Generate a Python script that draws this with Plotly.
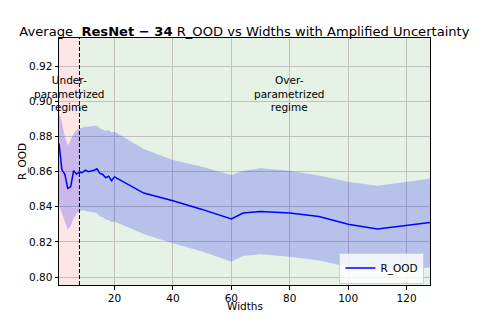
import plotly.graph_objects as go

widths = [1, 2, 3, 4, 5, 6, 7, 8, 9, 10, 11, 12, 13, 14, 15, 16, 17, 18, 19, 20,
          30, 40, 50, 60, 64, 70, 80, 90, 100, 110, 128]
r_ood = [0.876, 0.861, 0.8585, 0.8505, 0.8514, 0.8605, 0.8586, 0.8597, 0.8595, 0.8608,
         0.8599, 0.8603, 0.8608, 0.8616, 0.859, 0.8584, 0.8565, 0.8574, 0.8548, 0.857,
         0.8478, 0.8434, 0.8385, 0.8331, 0.8364, 0.8373, 0.8364, 0.8345, 0.8301, 0.8274, 0.8310]
upper = [0.894, 0.888, 0.880, 0.875, 0.878, 0.8815, 0.8835, 0.8845, 0.885, 0.8856,
         0.8855, 0.8858, 0.8862, 0.8862, 0.8845, 0.8838, 0.8832, 0.8835, 0.8822, 0.8827,
         0.8728, 0.8666, 0.8628, 0.8581, 0.8605, 0.8619, 0.8605, 0.8578, 0.8543, 0.852, 0.856]
lower = [0.841, 0.836, 0.831, 0.8269, 0.829, 0.8335, 0.836, 0.8375, 0.838, 0.8378,
         0.8373, 0.837, 0.8368, 0.8364, 0.8345, 0.834, 0.8326, 0.8325, 0.8312, 0.8316,
         0.8245, 0.8193, 0.8145, 0.8089, 0.812, 0.813, 0.8115, 0.8095, 0.8058, 0.803, 0.8055]

boundary = 8
x_min, x_max = 1, 128
y_min, y_max = 0.7955, 0.936
y_ticks = [0.80, 0.82, 0.84, 0.86, 0.88, 0.90, 0.92]
x_ticks = [20, 40, 60, 80, 100, 120]

FONT = "DejaVu Sans"
FS = 10.5

fig = go.Figure()

fig.add_trace(go.Scatter(x=widths, y=upper, mode="lines", line=dict(width=0),
                         showlegend=False, hoverinfo="skip"))
fig.add_trace(go.Scatter(x=widths, y=lower, mode="lines", line=dict(width=0),
                         fill="tonexty", fillcolor="rgba(0,0,255,0.2)",
                         showlegend=False, hoverinfo="skip"))
fig.add_trace(go.Scatter(x=widths, y=r_ood, mode="lines", name="R_OOD",
                         line=dict(color="blue", width=1.5)))

# shaded regimes
fig.add_shape(type="rect", xref="x", yref="paper", x0=x_min, x1=boundary, y0=0, y1=1,
              fillcolor="rgba(255,0,0,0.1)", line=dict(width=0), layer="below")
fig.add_shape(type="rect", xref="x", yref="paper", x0=boundary, x1=x_max, y0=0, y1=1,
              fillcolor="rgba(0,128,0,0.1)", line=dict(width=0), layer="below")
fig.add_shape(type="line", xref="x", yref="paper", x0=boundary, x1=boundary, y0=0, y1=1,
              line=dict(color="black", width=1, dash="4px,2px"))

fig.add_annotation(x=4.5, y=0.9045, xref="x", yref="y", text="Under-<br>parametrized<br>regime",
                   showarrow=False, font=dict(family=FONT, size=FS, color="black"),
                   align="center")
fig.add_annotation(x=80, y=0.9045, xref="x", yref="y", text="Over-<br>parametrized<br>regime",
                   showarrow=False, font=dict(family=FONT, size=FS, color="black"),
                   align="center")
# x-axis title
fig.add_annotation(x=0.5, y=-0.084, xref="paper", yref="paper", text="Widths",
                   showarrow=False, yanchor="middle",
                   font=dict(family=FONT, size=FS, color="black"))

# The page body adds an 8px offset, so the figure is 8px smaller and margins shifted.
fig.update_layout(
    width=470, height=311,
    margin=dict(l=51, r=48, t=30, b=34),
    paper_bgcolor="white", plot_bgcolor="white",
    font=dict(family=FONT, size=FS, color="black"),
    title=dict(text="Average  <b>ResNet − 34</b> R_OOD vs Widths with Amplified Uncertainty",
               x=0.503, xanchor="center", y=0.926, yanchor="middle",
               font=dict(family=FONT, size=13.1, color="black")),
    legend=dict(x=0.985, y=0.006, xanchor="right", yanchor="bottom",
                bgcolor="rgba(255,255,255,0.8)", bordercolor="#d0d0d0", borderwidth=1,
                font=dict(family=FONT, size=FS), tracegroupgap=0),
    showlegend=True,
)
fig.update_xaxes(range=[x_min, x_max], tickvals=x_ticks, showgrid=True, gridcolor="#c0c0c0",
                 gridwidth=1, showline=True, linecolor="black", linewidth=1, mirror=True,
                 ticks="outside", ticklen=3.5, tickcolor="black", zeroline=False,
                 automargin=False, tickfont=dict(family=FONT, size=FS))
fig.update_yaxes(range=[y_min, y_max], tickvals=y_ticks, tickformat=".2f", showgrid=True,
                 gridcolor="#c0c0c0", gridwidth=1, showline=True, linecolor="black",
                 linewidth=1, mirror=True, ticks="outside", ticklen=3.5, tickcolor="black",
                 zeroline=False, automargin=False, tickfont=dict(family=FONT, size=FS),
                 title=dict(text="R_OOD", standoff=0, font=dict(family=FONT, size=FS)))

fig.write_html("out.html")
